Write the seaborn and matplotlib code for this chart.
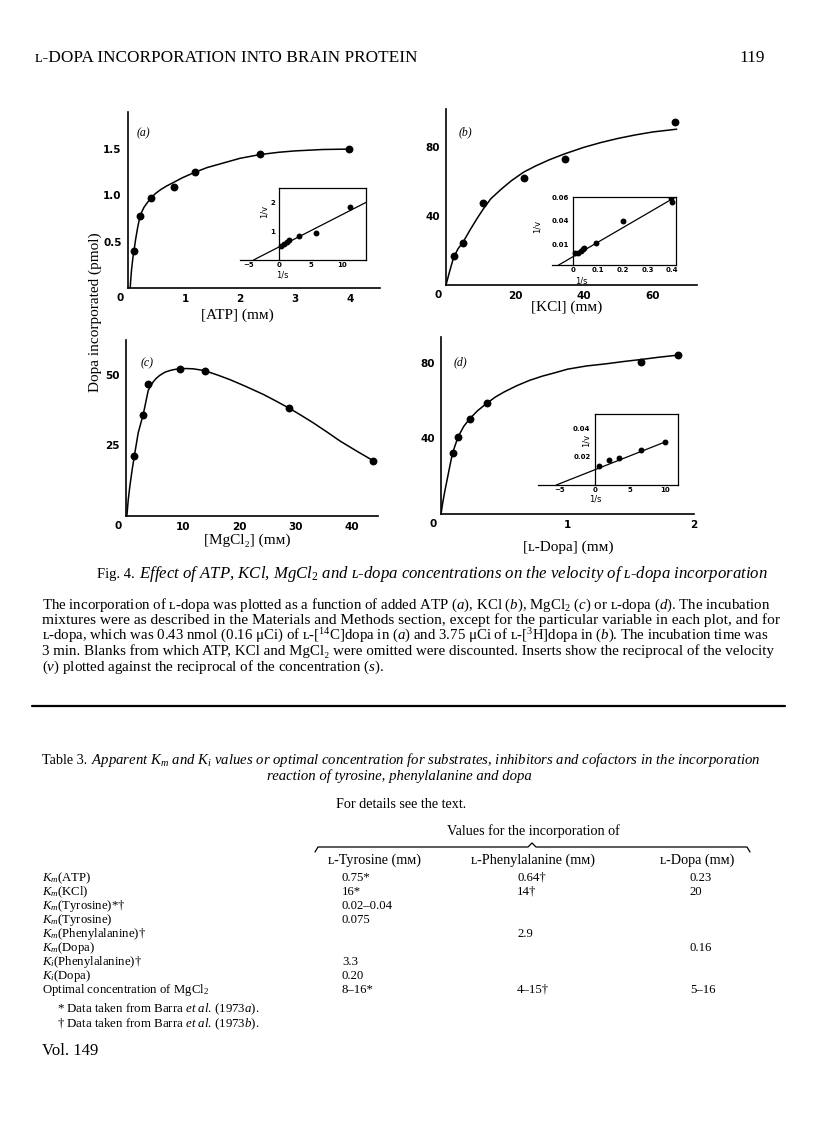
import numpy as np
import matplotlib.pyplot as plt
import seaborn as sns
from matplotlib.lines import Line2D

# ---- panel (a): ATP ----
atp_mm = [0.073, 0.17, 0.376, 0.79, 1.18, 2.36, 3.99]
atp_dopa = [0.40, 0.78, 0.97, 1.09, 1.25, 1.45, 1.50]
atp_curve_x = [0, 0.01, 0.025, 0.05, 0.073, 0.1, 0.135, 0.17, 0.21, 0.25, 0.31, 0.376, 0.46,
               0.55, 0.66, 0.79, 0.95, 1.18, 1.4, 1.64, 2.0, 2.36, 2.7, 3.0, 3.5, 4.0]
atp_curve_y = [0, 0.09, 0.2, 0.33, 0.42, 0.53, 0.65, 0.75, 0.82, 0.87, 0.92, 0.97, 1.02,
               1.06, 1.10, 1.14, 1.19, 1.25, 1.30, 1.34, 1.40, 1.44, 1.465, 1.48, 1.495, 1.50]
atp_inv_s = [0.32, 0.74, 1.17, 1.54, 3.1, 5.85, 11.2]
atp_inv_v = [0.48, 0.55, 0.63, 0.69, 0.84, 0.94, 1.85]
atp_fit = (0.46, 0.111)  # intercept, slope of the double-reciprocal line

# ---- panel (b): KCl ----
kcl_mm = [2.2, 5.0, 10.8, 22.6, 34.4, 66.4]
kcl_dopa = [16.6, 24.2, 47.4, 62.3, 73.1, 94.4]
kcl_curve_x = [0, 1, 2.2, 3.5, 5, 7, 9, 10.8, 13, 16, 19, 22.6, 26, 30, 34.4, 40, 45, 50, 55, 60, 66.9]
kcl_curve_y = [0, 7.5, 16, 21, 25, 32, 38.5, 44, 50, 55.5, 60.5, 65.5, 69, 72.6, 76, 79.8,
               82.6, 85, 87, 88.7, 90.3]
kcl_inv_s = [0.007, 0.021, 0.030, 0.039, 0.046, 0.094, 0.2, 0.395, 0.4]
kcl_inv_v = [0.0129, 0.0134, 0.0148, 0.0162, 0.0173, 0.0216, 0.040, 0.059, 0.056]
kcl_fit = (0.010, 0.121)

# ---- panel (c): MgCl2 ----
mg_mm = [1.36, 2.96, 3.85, 9.4, 13.9, 28.9, 43.8]
mg_dopa = [21.2, 35.9, 46.8, 52.1, 51.4, 38.1, 19.5]
mg_curve_x = [0.05, 0.3, 0.6, 1.0, 1.36, 2.07, 2.96, 3.85, 4.73, 5.3, 5.9, 6.8, 7.7, 8.6, 9.5,
              10.5, 11.8, 12.8, 13.9, 16, 18.3, 21, 24.3, 26.5, 28.9, 31, 33.1, 35.5, 37.9, 40.8, 43.8]
mg_curve_y = [0, 5.8, 10.8, 16.5, 21.0, 29.5, 36.0, 44.5, 47.5, 48.8, 49.8, 50.9, 51.5, 51.9, 52.1,
              52.2, 52.1, 51.8, 51.4, 50.0, 48.3, 46.0, 43.0, 40.7, 38.1, 35.6, 33.0, 29.8, 26.5, 23.0, 19.5]

# ---- panel (d): L-dopa ----
dopa_mm = [0.092, 0.136, 0.228, 0.362, 1.58, 1.87]
dopa_inc = [32.4, 40.9, 50.4, 58.5, 80.5, 84.1]
dopa_curve_x = [0, 0.015, 0.03, 0.045, 0.06, 0.075, 0.092, 0.136, 0.18, 0.228, 0.29, 0.362, 0.43,
                0.5, 0.6, 0.7, 0.8, 0.9, 1.0, 1.15, 1.3, 1.45, 1.58, 1.72, 1.87]
dopa_curve_y = [0, 6.5, 12, 17, 22, 27, 32.4, 40.9, 46.3, 50.4, 54.6, 58.5, 61.8, 64.5, 67.8, 70.6,
                72.8, 74.6, 76.5, 78.2, 79.3, 80.6, 81.6, 82.8, 83.9]
dopa_inv_s = [0.57, 2.0, 3.52, 6.57, 10.05]
dopa_inv_v = [0.0131, 0.0175, 0.0191, 0.0246, 0.0303]
dopa_fit = (0.0107, 0.00195)

# ---- Table 3 ----
row_names = ['$K_m$(ATP)', '$K_m$(KCl)', '$K_m$(Tyrosine)*†', '$K_m$(Tyrosine)',
             '$K_m$(Phenylalanine)†', '$K_m$(Dopa)', '$K_i$(Phenylalanine)†',
             '$K_i$(Dopa)', 'Optimal concentration of MgCl$_2$']
tyrosine_vals = ['0.75*', '16*', '0.02–0.04', '0.075', '', '', '3.3', '0.20', '8–16*']
phenyl_vals = ['0.64†', '14†', '', '', '2.9', '', '', '', '4–15†']
dopa_vals = ['0.23', '20', '', '', '', '0.16', '', '', '5–16']
col_heads = ['ʟ-Tyrosine (mᴍ)', 'ʟ-Phenylalanine (mᴍ)', 'ʟ-Dopa (mᴍ)']

sns.set_theme(style="white")
plt.rcParams['font.family'] = ['Liberation Serif', 'DejaVu Serif', 'DejaVu Sans']
plt.rcParams['mathtext.fontset'] = 'custom'
plt.rcParams['mathtext.rm'] = 'Liberation Serif'
plt.rcParams['mathtext.it'] = 'Liberation Serif:italic'
plt.rcParams['mathtext.bf'] = 'Liberation Serif:bold'

W, H = 816, 1136
fig = plt.figure(figsize=(W / 100, H / 100), dpi=100)
fig.patch.set_facecolor('white')
renderer = fig.canvas.get_renderer()


def box(l, t, r, b):
    return fig.add_axes([l / W, 1 - b / H, (r - l) / W, (b - t) / H])


def put(x, y, s, **kw):
    kw.setdefault('color', 'black')
    return fig.text(x / W, 1 - y / H, s, **kw)


def width(t):
    return t.get_window_extent(renderer=renderer).width


def fit(t, target):
    # scale the font so that the line spans the width seen on the page
    t.set_fontsize(t.get_fontsize() * target / width(t))
    return t.get_fontsize()


TICK = dict(fontfamily='DejaVu Sans', fontweight='bold', color='black')


def main_panel(ax, xs, ys, cx, cy, xlim, ylim, xt, yt):
    sns.lineplot(x=cx, y=cy, ax=ax, color='black', lw=1.1, estimator=None, sort=False)
    sns.scatterplot(x=xs, y=ys, ax=ax, color='black', s=32, linewidth=0, zorder=3)
    ax.set_xlim(*xlim)
    ax.set_ylim(*ylim)
    ax.set_facecolor('none')
    for s in ['top', 'right']:
        ax.spines[s].set_visible(False)
    for s in ['left', 'bottom']:
        ax.spines[s].set_linewidth(1.2)
        ax.spines[s].set_color('black')
    ax.set_xticks(xt, [str(v) for v in xt], fontsize=7.5, **TICK)
    ax.set_yticks(yt, [str(v) for v in yt], fontsize=7.5, **TICK)
    ax.tick_params(axis='x', direction='in', length=4, width=1, pad=4, colors='black')
    ax.tick_params(axis='y', direction='out', length=3, width=1, pad=1.5, colors='black')
    ax.set_xlabel('')
    ax.set_ylabel('')
    ax.annotate('0', xy=(0, 0), xycoords='axes fraction', xytext=(-6, -7),
                textcoords='offset points', ha='center', va='center', fontsize=7.5, **TICK)


def inset(ax, xs, ys, fit_line, xlim, ylim, xt, xtl, yt, ytl, x_end, xl_pos, yl_pos):
    b, m = fit_line
    lx = [-b / m, x_end]
    sns.lineplot(x=lx, y=[b + m * v for v in lx], ax=ax, color='black', lw=0.9, estimator=None)
    sns.scatterplot(x=xs, y=ys, ax=ax, color='black', s=18, linewidth=0, zorder=3)
    ax.set_xlim(*xlim)
    ax.set_ylim(*ylim)
    ax.set_facecolor('none')
    ax.spines['left'].set_position(('data', 0))
    ax.spines['top'].set_bounds(0, xlim[1])
    for s in ax.spines.values():
        s.set_linewidth(0.9)
        s.set_color('black')
        s.set_visible(True)
    ax.set_xticks(xt, xtl, fontsize=5, **TICK)
    ax.set_yticks(yt, ytl, fontsize=5, **TICK)
    ax.tick_params(axis='x', direction='in', length=2, width=0.8, pad=1.5)
    ax.tick_params(axis='y', direction='out', length=2, width=0.8, pad=1)
    ax.set_xlabel('1/s', fontsize=6, color='black', fontfamily='DejaVu Sans')
    ax.set_ylabel('1/v', fontsize=6, color='black', fontfamily='DejaVu Sans')
    ax.xaxis.set_label_coords(*xl_pos)
    ax.yaxis.set_label_coords(*yl_pos)
    ax.xaxis.label.set_va('center')
    ax.yaxis.label.set_va('center')


# panels
ax_a = box(128, 112, 380, 288)
main_panel(ax_a, atp_mm, atp_dopa, atp_curve_x, atp_curve_y, (-0.04, 4.55), (0, 1.9),
           [1, 2, 3, 4], [0.5, 1.0, 1.5])
ax_b = box(446, 109, 697, 285)
main_panel(ax_b, kcl_mm, kcl_dopa, kcl_curve_x, kcl_curve_y, (0, 72.8), (0, 102),
           [20, 40, 60], [40, 80])
ax_c = box(126, 340, 378, 516)
main_panel(ax_c, mg_mm, mg_dopa, mg_curve_x, mg_curve_y, (-0.1, 44.6), (0, 62.3),
           [10, 20, 30, 40], [25, 50])
ax_d = box(441, 337, 694, 514)
main_panel(ax_d, dopa_mm, dopa_inc, dopa_curve_x, dopa_curve_y, (0, 2.0), (0, 93.5),
           [1, 2], [40, 80])

# inserts
in_a = box(240, 188, 366, 260)
inset(in_a, atp_inv_s, atp_inv_v, atp_fit, (-6.3, 13.8), (0, 2.49),
      [-5, 0, 5, 10], ['−5', '0', '5', '10'], [1, 2], ['1', '2'], 13.8,
      (0.34, -0.21), (0.19, 0.67))
in_b = box(552, 197, 676, 265)
inset(in_b, kcl_inv_s, kcl_inv_v, kcl_fit, (-0.085, 0.415), (0.003, 0.06),
      [0, 0.1, 0.2, 0.3, 0.4], ['0', '0.1', '0.2', '0.3', '0.4'],
      [0.02, 0.04, 0.06], ['0.01', '0.04', '0.06'], 0.415,
      (0.24, -0.24), (-0.12, 0.56))
in_d = box(538, 414, 678, 485)
inset(in_d, dopa_inv_s, dopa_inv_v, dopa_fit, (-8.1, 11.9), (0, 0.05),
      [-5, 0, 5, 10], ['−5', '0', '5', '10'], [0.02, 0.04], ['0.02', '0.04'], 10.05,
      (0.41, -0.2), (0.34, 0.63))

# panel tags and axis titles
for x, y, t in [(143, 133, '(a)'), (465, 132, '(b)'), (147, 363, '(c)'), (460, 362, '(d)')]:
    put(x, y, t, fontsize=8.5, style='italic', ha='center', va='center')
put(237, 315, '[ATP] (mᴍ)', fontsize=11, ha='center', va='center')
put(567, 307, '[KCl] (mᴍ)', fontsize=11, ha='center', va='center')
put(247, 540, '[MgCl₂] (mᴍ)', fontsize=11, ha='center', va='center')
put(568, 547, '[ʟ-Dopa] (mᴍ)', fontsize=11, ha='center', va='center')
put(95, 312, 'Dopa incorporated (pmol)', fontsize=11, rotation=90, ha='center', va='center')

# running head
head = put(35, 62, 'ʟ-DOPA INCORPORATION INTO BRAIN PROTEIN', fontsize=10.5, ha='left', va='baseline')
hs = fit(head, 383)
put(765, 62, '119', fontsize=hs, ha='right', va='baseline')

# figure legend
fig_no = put(97, 578, 'Fig. 4.', fontsize=10.5, ha='left', va='baseline')
x0 = 97 + width(fig_no) + 4
title = put(x0, 578, 'Effect of ATP, KCl, MgCl$_2$ and ʟ-dopa concentrations on the velocity of ʟ-dopa incorporation',
            fontsize=10.5, style='italic', ha='left', va='baseline')
fit(title, 768 - x0)
legend_lines = [
    'The incorporation of ʟ-dopa was plotted as a function of added ATP ($a$), KCl ($b$), MgCl$_2$ ($c$) or ʟ-dopa ($d$). The incubation',
    'mixtures were as described in the Materials and Methods section, except for the particular variable in each plot, and for',
    'ʟ-dopa, which was 0.43 nmol (0.16 μCi) of ʟ-[$^{14}$C]dopa in ($a$) and 3.75 μCi of ʟ-[$^{3}$H]dopa in ($b$). The incubation time was',
    '3 min. Blanks from which ATP, KCl and MgCl₂ were omitted were discounted. Inserts show the reciprocal of the velocity',
    '($v$) plotted against the reciprocal of the concentration ($s$).',
]
sizes = []
for i, line in enumerate(legend_lines):
    t = put(42, 609 + 15.4 * i, line, fontsize=10.5, ha='left', va='baseline')
    if i < len(legend_lines) - 1:
        sizes.append(fit(t, 730))
    else:
        t.set_fontsize(float(np.mean(sizes)))

# rule
fig.add_artist(Line2D([32 / W, 785 / W], [1 - 706 / H, 1 - 706 / H], color='black', lw=1.6))

# table 3
TS = 10.2
RS = 9.2
tab_no = put(42, 764, 'Table 3.', fontsize=TS, ha='left', va='baseline')
x1 = 42 + width(tab_no) + 4
ttl = put(x1, 764, 'Apparent $K_m$ and $K_i$ values or optimal concentration for substrates, inhibitors and cofactors in the incorporation',
          fontsize=TS, style='italic', ha='left', va='baseline')
fit(ttl, 757 - x1)
put(399, 780, 'reaction of tyrosine, phenylalanine and dopa', fontsize=ttl.get_fontsize(), style='italic',
    ha='center', va='baseline')
put(401, 808, 'For details see the text.', fontsize=TS, ha='center', va='baseline')
put(533, 835, 'Values for the incorporation of', fontsize=TS, ha='center', va='baseline')
bx = [315, 318, 528, 532, 536, 747, 750]
by = [852, 847, 847, 843, 847, 847, 852]
fig.add_artist(Line2D([v / W for v in bx], [1 - v / H for v in by], color='black', lw=0.9))
for cx, hd in zip([374, 533, 697], col_heads):
    put(cx, 864, hd, fontsize=TS, ha='center', va='baseline')
for i, name in enumerate(row_names):
    y = 881 + 14 * i
    put(42, y, name, fontsize=RS, ha='left', va='baseline')
    for cx, vals in zip([342, 517, 690], [tyrosine_vals, phenyl_vals, dopa_vals]):
        if vals[i]:
            put(cx, y, vals[i], fontsize=RS, ha='left', va='baseline')
put(57, 1012, '* Data taken from Barra $et$ $al$. (1973$a$).', fontsize=9.3, ha='left', va='baseline')
put(57, 1027, '† Data taken from Barra $et$ $al$. (1973$b$).', fontsize=9.3, ha='left', va='baseline')
put(42, 1055, 'Vol. 149', fontsize=12, ha='left', va='baseline')

fig.savefig('out.png', dpi=100, facecolor='white')
